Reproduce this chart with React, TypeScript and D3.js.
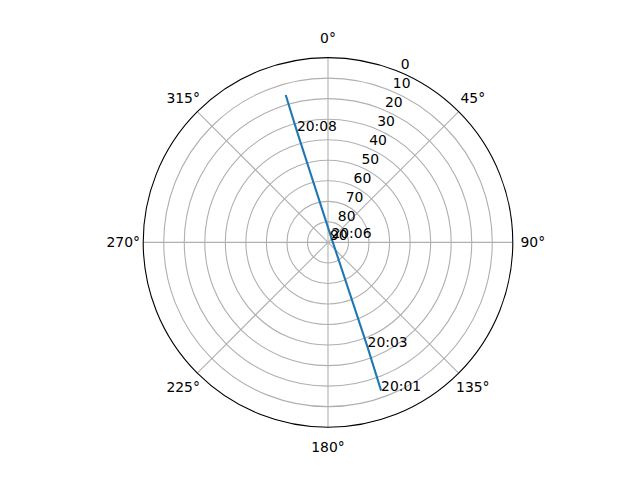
import { useEffect, useRef } from "react";
import * as d3 from "d3";

// sky track: azimuth (deg, clockwise from north) and elevation (deg)
const trackAz = [160.3, 159.3, 38.5, 344.4, 344.0];
const trackEl = [13.3, 35.5, 87.3, 33.7, 15.3];
const trackTimes = ["20:01", "20:03", "20:06", "20:08", ""];

const elevTicks = [0, 10, 20, 30, 40, 50, 60, 70, 80, 90];
const azTicks = [0, 45, 90, 135, 180, 225, 270, 315];

export default function App() {
  const svgRef = useRef<SVGSVGElement | null>(null);

  useEffect(() => {
    const width = 640;
    const height = 480;
    const cx = 328;
    const cy = 242.4;
    const R = 184.8;
    const font = "DejaVu Sans, sans-serif";

    const svg = d3.select(svgRef.current);
    svg.selectAll("*").remove();
    svg.append("rect").attr("width", width).attr("height", height).attr("fill", "white");

    const rScale = d3.scaleLinear().domain([90, 0]).range([0, R]);
    const toXY = (az: number, el: number): [number, number] => {
      const a = (az * Math.PI) / 180;
      const r = rScale(el);
      return [cx + r * Math.sin(a), cy - r * Math.cos(a)];
    };

    const g = svg.append("g");

    // circular grid
    g.selectAll(".ring")
      .data(elevTicks.filter((t) => t > 0 && t < 90))
      .join("circle")
      .attr("cx", cx)
      .attr("cy", cy)
      .attr("r", (d) => rScale(d))
      .attr("fill", "none")
      .attr("stroke", "#b0b0b0")
      .attr("stroke-width", 1.1);

    // spokes
    g.selectAll(".spoke")
      .data(azTicks)
      .join("line")
      .attr("x1", cx)
      .attr("y1", cy)
      .attr("x2", (d) => toXY(d, 0)[0])
      .attr("y2", (d) => toXY(d, 0)[1])
      .attr("stroke", "#b0b0b0")
      .attr("stroke-width", 1.1);

    // outer spine
    g.append("circle")
      .attr("cx", cx)
      .attr("cy", cy)
      .attr("r", R)
      .attr("fill", "none")
      .attr("stroke", "black")
      .attr("stroke-width", 1.1);

    // azimuth labels
    g.selectAll(".az-label")
      .data(azTicks)
      .join("text")
      .attr("x", (d) => cx + (R + 20) * Math.sin((d * Math.PI) / 180))
      .attr("y", (d) => cy - (R + 20) * Math.cos((d * Math.PI) / 180))
      .attr("text-anchor", "middle")
      .attr("dominant-baseline", "central")
      .style("font-family", font)
      .style("font-size", "13.9px")
      .text((d) => `${d}°`);

    // track line
    const pts = trackAz.map((az, i) => toXY(az, trackEl[i]));
    g.append("path")
      .attr("d", d3.line()(pts))
      .attr("fill", "none")
      .attr("stroke", "#1f77b4")
      .attr("stroke-width", 2.08);

    // elevation labels
    g.selectAll(".el-label")
      .data(elevTicks)
      .join("text")
      .attr("x", (d) => toXY(22.5, d)[0] + 2)
      .attr("y", (d) => toXY(22.5, d)[1] - 2.7)
      .style("font-family", font)
      .style("font-size", "13.9px")
      .text((d) => String(d));

    // time annotations
    g.selectAll(".time-label")
      .data(pts.map((p, i) => ({ p, t: trackTimes[i] })).filter((d) => d.t))
      .join("text")
      .attr("x", (d) => d.p[0])
      .attr("y", (d) => d.p[1])
      .style("font-family", font)
      .style("font-size", "13.9px")
      .text((d) => d.t);
  }, []);

  return (
    <svg
      ref={svgRef}
      width={640}
      height={480}
      style={{ position: "absolute", left: 0, top: 0 }}
    />
  );
}
